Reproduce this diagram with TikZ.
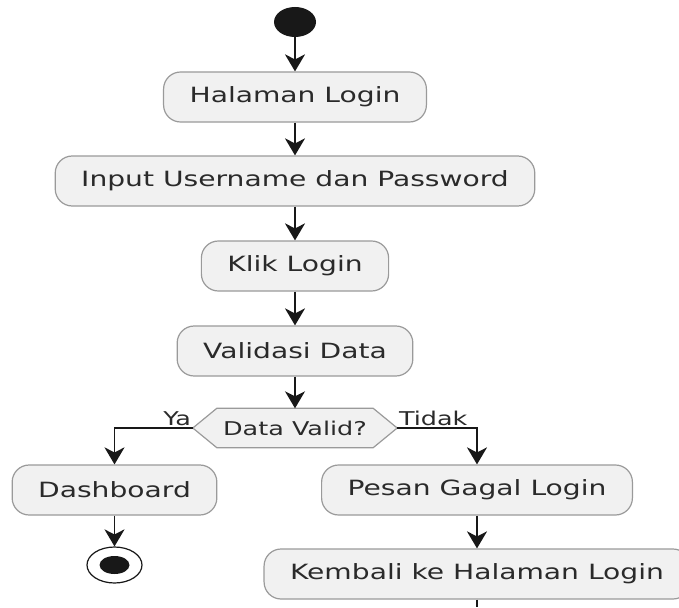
\documentclass[tikz,border=0pt]{standalone}
\usepackage{fontspec}
\setmainfont{DejaVu Sans}[FakeStretch=1.34]
\usetikzlibrary{arrows.meta,shapes.geometric}
\definecolor{actfill}{HTML}{F1F1F1}
\definecolor{actline}{HTML}{9A9A9A}
\definecolor{flow}{HTML}{181818}
\definecolor{txt}{HTML}{2A2A2A}

\begin{document}
\begin{tikzpicture}[x=1pt,y=-1pt,
        act/.style={draw=actline, fill=actfill, line width=1.2pt, rounded corners=17pt,
            minimum height=50pt, inner xsep=26pt, text=txt, font=\fontsize{21}{24}\selectfont},
        small/.style={text=txt, font=\fontsize{19}{22}\selectfont},
        flowline/.style={draw=flow, line width=1.6pt, -{Stealth[length=17pt,width=20pt,inset=5pt]}}]
    \useasboundingbox (0,0) rectangle (679,607);

    \node[ellipse, fill=flow, minimum width=42pt, minimum height=30pt, inner sep=0pt] (start) at (295,22) {};
    \node[act] (halaman) at (295,97) {Halaman Login};
    \node[act] (input) at (295,181) {Input Username dan Password};
    \node[act] (klik) at (295,266) {Klik Login};
    \node[act] (validasi) at (295,351) {Validasi Data};

    % percabangan
    \node[minimum width=204pt, minimum height=39pt, inner sep=0pt] (valid) at (295,428) {};
    \draw[draw=actline, fill=actfill, line width=1.2pt] (valid.west) -- ([xshift=24pt]valid.north west)
        -- ([xshift=-24pt]valid.north east) -- (valid.east) -- ([xshift=-24pt]valid.south east)
        -- ([xshift=24pt]valid.south west) -- cycle;
    \node[small] (validtext) at (valid) {Data Valid?};

    \node[act] (dash) at (114.5,490) {Dashboard};
    \node[act] (pesan) at (477,490) {Pesan Gagal Login};
    \node[act] (kembali) at (477,574) {Kembali ke Halaman Login};

    \node[ellipse, draw=flow, fill=white, line width=1.2pt, minimum width=55pt, minimum height=36pt] (stop) at (114.5,565) {};
    \fill[flow] (stop) ellipse (15pt and 9pt);
    \coordinate (out) at (477,607);

    \draw[flowline] (start) -- (halaman);
    \draw[flowline] (halaman) -- (input);
    \draw[flowline] (input) -- (klik);
    \draw[flowline] (klik) -- (validasi);
    \draw[flowline] (validasi) -- (valid);
    \draw[flowline] (valid.west) node[small, above left, inner sep=1pt] (ya) {Ya} -| (dash);
    \draw[flowline] (valid.east) node[small, above right, inner sep=1pt] (tidak) {Tidak} -| (pesan);
    \draw[flowline] (dash) -- (stop);
    \draw[flowline] (pesan) -- (kembali);
    \draw[draw=flow, line width=1.6pt] (kembali) -- (out);
\end{tikzpicture}
\end{document}
